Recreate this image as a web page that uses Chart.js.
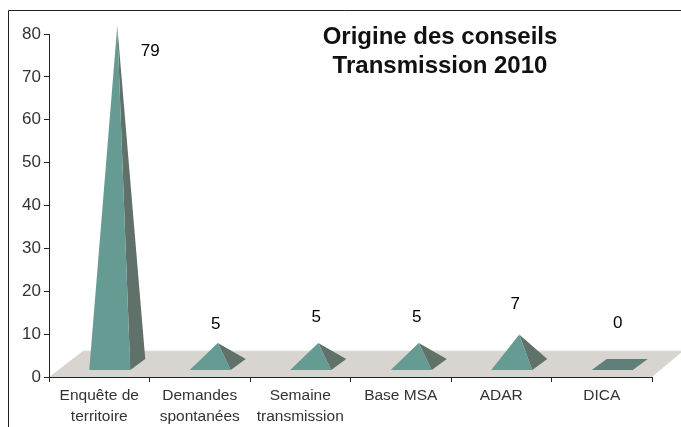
<!DOCTYPE html>
<html>
<head>
<meta charset="utf-8">
<script src="https://cdn.jsdelivr.net/npm/chart.js@4"></script>
<style>
  html, body { margin: 0; padding: 0; background: #fff; }
  #wrap { width: 681px; height: 427px; }
</style>
</head>
<body>
<div id="wrap"><canvas id="myChart" width="681" height="427"></canvas></div>
<script>
const categories = [['Enquête de', 'territoire'], ['Demandes', 'spontanées'], ['Semaine', 'transmission'], 'Base MSA', 'ADAR', 'DICA'];
const conseils = [79, 5, 5, 5, 7, 0];
const yTicks = [0, 10, 20, 30, 40, 50, 60, 70, 80];
const titleLines = ['Origine des conseils', 'Transmission 2010'];

// the value labels in the picture are placed by hand, [dx, dy] from the apex
const labelOffsets = [[33, 26], [-2, -19], [-2, -26], [-2, -26], [-4, -30], [-2, -41]];

const depthX = 15, depthY = -11;   // how far the 3D floor goes back
const halfBase = 20.5;

function poly(ctx, pts, color) {
  ctx.fillStyle = color;
  ctx.beginPath();
  pts.forEach((p, i) => i ? ctx.lineTo(p[0], p[1]) : ctx.moveTo(p[0], p[1]));
  ctx.closePath();
  ctx.fill();
}

// frame and floor go under the axes
const backdrop = {
  id: 'backdrop',
  beforeDraw(chart) {
    const { ctx, chartArea: a } = chart;
    ctx.save();
    ctx.strokeStyle = '#222';
    ctx.lineWidth = 1;
    ctx.beginPath();
    ctx.moveTo(8.5, 427);
    ctx.lineTo(8.5, 10.5);
    ctx.lineTo(681, 10.5);
    ctx.stroke();

    poly(ctx, [[a.left, a.bottom], [a.right, a.bottom], [a.right + 31, a.bottom - 26], [a.left + 34, a.bottom - 26]], '#d8d4cf');
    ctx.strokeStyle = '#d6e6dc';
    ctx.beginPath();
    ctx.moveTo(a.left + 34, a.bottom - 26);
    ctx.lineTo(a.right + 31, a.bottom - 26);
    ctx.stroke();
    ctx.restore();
  }
};

// pyramids, apex height comes from the bar element (so from the y scale)
const pyramids = {
  id: 'pyramids',
  afterDatasetsDraw(chart) {
    const { ctx } = chart;
    const zero = chart.scales.y.getPixelForValue(0);
    ctx.save();
    chart.getDatasetMeta(0).data.forEach((bar, i) => {
      const cx = bar.x + 10.5;
      const fy = zero - 7;
      const fl = [cx - halfBase, fy];
      const fr = [cx + halfBase, fy];
      const br = [cx + halfBase + depthX, fy + depthY];
      const bl = [cx - halfBase + depthX, fy + depthY];
      const apex = [cx + depthX / 2, bar.y + fy + depthY / 2 - zero];
      if (conseils[i] === 0) {
        poly(ctx, [fl, fr, br, bl], '#5f7f78');
      } else {
        poly(ctx, [fr, br, apex], '#5f7169');
        poly(ctx, [fl, fr, apex], '#669b93');
      }
      ctx.fillStyle = '#000';
      ctx.font = '17px "Liberation Sans"';
      ctx.textAlign = 'center';
      ctx.textBaseline = 'middle';
      ctx.fillText(String(conseils[i]), apex[0] + labelOffsets[i][0], apex[1] + labelOffsets[i][1]);
    });
    ctx.fillStyle = '#111';
    ctx.font = 'bold 24px "Liberation Sans"';
    ctx.fillText(titleLines[0], 440, 37);
    ctx.fillText(titleLines[1], 440, 66);
    ctx.restore();
  }
};

const ctx = document.getElementById('myChart').getContext('2d');

const myChart = new Chart(ctx, {
  type: 'bar',
  data: {
    labels: categories,
    datasets: [{
      label: 'Origine des conseils',
      data: conseils,
      backgroundColor: 'rgba(0,0,0,0)',
      borderWidth: 0
    }]
  },
  options: {
    responsive: false,
    animation: false,
    events: [],
    layout: { padding: { top: 34, right: 29, bottom: 0, left: 0 } },
    plugins: {
      legend: { display: false },
      title: { display: false },
      tooltip: { enabled: false }
    },
    scales: {
      x: {
        afterFit(scale) { scale.height = 50; },
        border: { color: '#222', width: 1 },
        grid: { drawOnChartArea: false, color: '#222', tickLength: 5 },
        ticks: {
          color: '#333',
          font: { family: '"Liberation Sans"', size: 15.5, lineHeight: 1.3 },
          autoSkip: false,
          maxRotation: 0,
          minRotation: 0,
          padding: 4
        }
      },
      y: {
        min: 0,
        max: 80,
        afterFit(scale) { scale.width = 49; },
        afterBuildTicks(scale) { scale.ticks = yTicks.map(v => ({ value: v })); },
        border: { color: '#222', width: 1 },
        grid: { drawOnChartArea: false, color: '#222', tickLength: 5 },
        ticks: {
          color: '#333',
          font: { family: '"Liberation Sans"', size: 17 },
          padding: 3
        }
      }
    }
  },
  plugins: [backdrop, pyramids]
});
</script>
</body>
</html>
